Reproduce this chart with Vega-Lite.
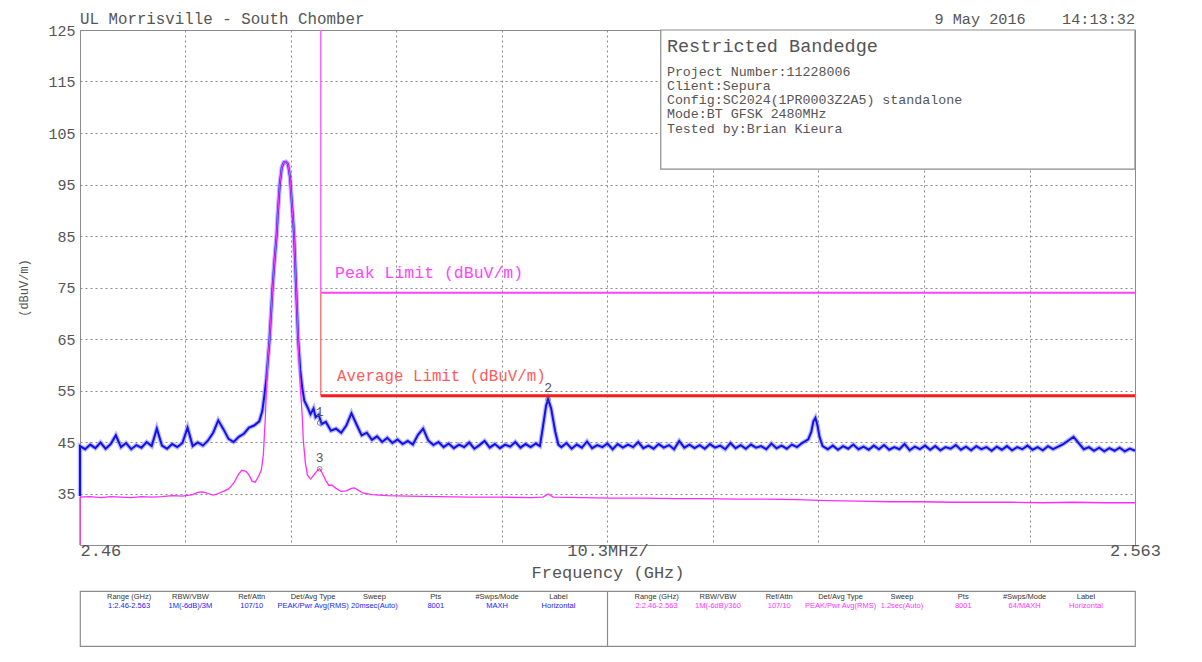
{
"$schema": "https://vega.github.io/schema/vega-lite/v6.json",
"autosize": {"type": "pad"},
"padding": {"left": 17, "top": 10, "right": 5, "bottom": 5},
"background": "white",
"spacing": 8,
"config": {
  "font": "Liberation Mono",
  "view": {"stroke": "#8c8c8c", "strokeWidth": 1},
  "axis": {"labelFont": "Liberation Mono", "titleFont": "Liberation Mono", "titleFontWeight": "normal", "labelColor": "#555555", "titleColor": "#555555"}
},
"datasets": {
  "pk": [
    {"f":2.46,"v":34.5},{"f":2.46,"v":44.2},{"f":2.4605,"v":43.6},{"f":2.461,"v":44.5},{"f":2.4615,"v":43.8},{"f":2.462,"v":44.9},{"f":2.4625,"v":43.7},{"f":2.463,"v":44.6},{"f":2.4635,"v":46.3},{"f":2.464,"v":44.0},{"f":2.4645,"v":44.8},{"f":2.465,"v":43.6},{"f":2.4655,"v":44.4},{"f":2.466,"v":43.9},{"f":2.4665,"v":45.0},{"f":2.467,"v":44.2},{"f":2.4675,"v":47.6},{"f":2.468,"v":44.3},{"f":2.4685,"v":43.7},{"f":2.469,"v":44.6},{"f":2.4695,"v":44.0},{"f":2.47,"v":44.8},{"f":2.4705,"v":47.8},{"f":2.471,"v":44.2},{"f":2.4715,"v":44.9},{"f":2.472,"v":44.3},{"f":2.4725,"v":45.3},{"f":2.473,"v":46.8},{"f":2.4735,"v":49.2},{"f":2.474,"v":47.5},{"f":2.4745,"v":45.6},{"f":2.475,"v":45.0},{"f":2.4755,"v":46.0},{"f":2.476,"v":46.6},{"f":2.4765,"v":47.8},{"f":2.477,"v":48.2},{"f":2.4775,"v":49.0},{"f":2.4778,"v":51.0},{"f":2.478,"v":54.0},{"f":2.4782,"v":57.4},{"f":2.4785,"v":64.8},{"f":2.4788,"v":75.0},{"f":2.479,"v":80.5},{"f":2.4792,"v":85.2},{"f":2.4793,"v":89.0},{"f":2.4795,"v":95.0},{"f":2.4797,"v":98.3},{"f":2.4799,"v":99.3},{"f":2.4801,"v":99.4},{"f":2.4803,"v":99.0},{"f":2.4805,"v":96.5},{"f":2.4807,"v":91.0},{"f":2.4809,"v":85.2},{"f":2.4811,"v":75.0},{"f":2.4813,"v":64.8},{"f":2.4815,"v":59.0},{"f":2.4817,"v":55.5},
    {"f":2.4819,"v":53.0},{"f":2.4822,"v":51.8},{"f":2.4825,"v":50.4},{"f":2.4828,"v":51.5},{"f":2.483,"v":49.8},{"f":2.4833,"v":50.3},{"f":2.4836,"v":48.5},{"f":2.484,"v":48.9},{"f":2.4845,"v":47.2},{"f":2.485,"v":47.6},{"f":2.4855,"v":46.8},{"f":2.486,"v":48.2},{"f":2.4865,"v":50.6},{"f":2.487,"v":48.4},{"f":2.4875,"v":46.3},{"f":2.488,"v":46.8},{"f":2.4885,"v":45.4},{"f":2.489,"v":46.1},{"f":2.4895,"v":45.0},{"f":2.49,"v":45.8},{"f":2.4905,"v":44.8},{"f":2.491,"v":45.5},{"f":2.4915,"v":44.6},{"f":2.492,"v":45.2},{"f":2.4925,"v":44.5},{"f":2.493,"v":46.4},{"f":2.4935,"v":47.6},{"f":2.494,"v":45.3},{"f":2.4945,"v":44.4},{"f":2.495,"v":45.0},{"f":2.4955,"v":44.0},{"f":2.496,"v":44.7},{"f":2.4965,"v":43.8},{"f":2.497,"v":44.5},{"f":2.4975,"v":44.0},{"f":2.498,"v":44.9},{"f":2.4985,"v":43.7},{"f":2.499,"v":44.4},{"f":2.4995,"v":45.2},{"f":2.5,"v":43.9},{"f":2.5005,"v":44.6},{"f":2.501,"v":43.8},{"f":2.5015,"v":44.5},{"f":2.502,"v":44.1},{"f":2.5025,"v":45.0},{"f":2.503,"v":43.9},{"f":2.5035,"v":44.6},{"f":2.504,"v":44.0},{"f":2.5045,"v":44.7},{"f":2.5049,"v":44.2},{"f":2.5052,"v":48.0},{"f":2.5055,"v":52.0},{"f":2.5057,"v":53.3},{"f":2.506,"v":51.5},{"f":2.5064,"v":47.0},{"f":2.5067,"v":44.5},{"f":2.507,"v":44.0},{"f":2.5075,"v":44.8},{"f":2.508,"v":43.7},{"f":2.5085,"v":44.5},{"f":2.509,"v":43.9},{"f":2.5095,"v":45.1},{"f":2.51,"v":43.8},{"f":2.5105,"v":44.4},{"f":2.511,"v":44.0},{"f":2.5115,"v":44.7},{"f":2.512,"v":43.6},{"f":2.5125,"v":44.6},{"f":2.513,"v":43.9},{"f":2.5135,"v":44.5},{"f":2.514,"v":44.0},{"f":2.5145,"v":45.0},{"f":2.515,"v":43.8},{"f":2.5155,"v":44.3},{"f":2.516,"v":43.7},{"f":2.5165,"v":44.6},{"f":2.517,"v":43.9},{"f":2.5175,"v":44.4},{"f":2.518,"v":43.6},{"f":2.5185,"v":45.2},{"f":2.519,"v":43.9},{"f":2.5195,"v":44.5},{"f":2.52,"v":43.8},{"f":2.5205,"v":44.4},{"f":2.521,"v":43.7},{"f":2.5215,"v":44.6},{"f":2.522,"v":43.9},{"f":2.5225,"v":44.3},{"f":2.523,"v":43.6},{"f":2.5235,"v":44.8},{"f":2.524,"v":43.8},{"f":2.5245,"v":44.4},{"f":2.525,"v":43.7},{"f":2.5255,"v":44.5},{"f":2.526,"v":43.9},{"f":2.5265,"v":44.2},{"f":2.527,"v":43.6},{"f":2.5275,"v":44.7},{"f":2.528,"v":43.8},{"f":2.5285,"v":44.3},{"f":2.529,"v":43.7},{"f":2.5295,"v":44.5},{"f":2.53,"v":44.0},{"f":2.5305,"v":44.8},{"f":2.5311,"v":45.5},{"f":2.5314,"v":47.0},{"f":2.5316,"v":49.0},{"f":2.5318,"v":49.7},{"f":2.532,"v":48.2},{"f":2.5322,"v":46.0},{"f":2.5325,"v":44.2},{"f":2.533,"v":43.6},{"f":2.5335,"v":44.3},{"f":2.534,"v":43.5},{"f":2.5345,"v":44.2},{"f":2.535,"v":43.7},{"f":2.5355,"v":44.5},{"f":2.536,"v":43.6},{"f":2.5365,"v":44.1},{"f":2.537,"v":43.5},{"f":2.5375,"v":44.3},{"f":2.538,"v":43.6},{"f":2.5385,"v":44.4},{"f":2.539,"v":43.5},{"f":2.5395,"v":44.0},{"f":2.54,"v":43.6},{"f":2.5405,"v":44.6},{"f":2.541,"v":43.4},{"f":2.5415,"v":44.1},{"f":2.542,"v":43.6},{"f":2.5425,"v":44.3},{"f":2.543,"v":43.5},{"f":2.5435,"v":44.2},{"f":2.544,"v":43.4},{"f":2.5445,"v":44.0},{"f":2.545,"v":43.7},{"f":2.5455,"v":44.4},{"f":2.546,"v":43.5},{"f":2.5465,"v":44.1},{"f":2.547,"v":43.4},{"f":2.5475,"v":44.2},{"f":2.548,"v":43.6},{"f":2.5485,"v":44.0},{"f":2.549,"v":43.3},{"f":2.5495,"v":44.1},{"f":2.55,"v":43.5},{"f":2.5505,"v":44.2},{"f":2.551,"v":43.4},{"f":2.5515,"v":44.0},{"f":2.552,"v":43.6},{"f":2.5525,"v":44.3},{"f":2.553,"v":43.5},{"f":2.5535,"v":44.0},{"f":2.554,"v":43.4},{"f":2.5545,"v":44.2},{"f":2.555,"v":43.6},{"f":2.5555,"v":44.1},{"f":2.556,"v":44.6},{"f":2.5565,"v":45.3},{"f":2.557,"v":46.0},{"f":2.5575,"v":44.8},{"f":2.558,"v":43.6},{"f":2.5585,"v":44.0},{"f":2.559,"v":43.3},{"f":2.5595,"v":43.9},{"f":2.56,"v":43.2},{"f":2.5605,"v":43.8},{"f":2.561,"v":43.3},{"f":2.5615,"v":43.9},{"f":2.562,"v":43.2},{"f":2.5625,"v":43.7},{"f":2.563,"v":43.3}
  ],
  "av": [
    {"f":2.46,"v":25.0},{"f":2.46,"v":34.3},{"f":2.461,"v":34.4},{"f":2.462,"v":34.2},{"f":2.463,"v":34.4},{"f":2.464,"v":34.3},{"f":2.465,"v":34.2},{"f":2.466,"v":34.4},{"f":2.467,"v":34.3},{"f":2.468,"v":34.4},{"f":2.469,"v":34.6},{"f":2.47,"v":34.5},{"f":2.471,"v":34.8},{"f":2.4715,"v":35.2},{"f":2.472,"v":35.3},{"f":2.4725,"v":35.0},{"f":2.473,"v":34.7},{"f":2.4735,"v":35.0},{"f":2.474,"v":35.4},{"f":2.4745,"v":35.9},{"f":2.475,"v":37.0},{"f":2.4755,"v":38.8},{"f":2.4758,"v":39.5},{"f":2.4762,"v":39.3},{"f":2.4765,"v":38.6},{"f":2.4768,"v":37.4},{"f":2.4771,"v":37.2},{"f":2.4774,"v":38.2},{"f":2.4777,"v":39.5},{"f":2.4779,"v":42.5},{"f":2.4781,"v":50.0},{"f":2.4783,"v":60.0},{"f":2.4785,"v":64.8},{"f":2.4788,"v":75.0},{"f":2.479,"v":80.5},{"f":2.4792,"v":85.2},{"f":2.4793,"v":89.0},{"f":2.4795,"v":95.0},{"f":2.4797,"v":98.3},{"f":2.4799,"v":99.3},{"f":2.4801,"v":99.4},{"f":2.4803,"v":99.0},{"f":2.4805,"v":96.5},{"f":2.4807,"v":91.0},{"f":2.4809,"v":85.2},{"f":2.4811,"v":75.0},{"f":2.4813,"v":64.8},{"f":2.4815,"v":56.0},{"f":2.4817,"v":50.0},{"f":2.4818,"v":45.4},{"f":2.482,"v":41.0},{"f":2.4822,"v":38.6},{"f":2.4825,"v":37.8},{"f":2.4828,"v":38.5},{"f":2.4831,"v":39.3},{"f":2.4834,"v":39.8},{"f":2.4837,"v":38.8},{"f":2.484,"v":37.5},{"f":2.4843,"v":36.6},{"f":2.4846,"v":36.6},{"f":2.485,"v":36.0},{"f":2.4855,"v":35.4},{"f":2.486,"v":35.5},{"f":2.4865,"v":36.0},{"f":2.4868,"v":36.1},{"f":2.4872,"v":35.6},{"f":2.4876,"v":35.1},{"f":2.4885,"v":34.8},{"f":2.49,"v":34.6},{"f":2.492,"v":34.5},{"f":2.495,"v":34.4},{"f":2.498,"v":34.3},{"f":2.501,"v":34.3},{"f":2.504,"v":34.2},{"f":2.5052,"v":34.3},{"f":2.5057,"v":34.9},{"f":2.5062,"v":34.3},{"f":2.509,"v":34.2},{"f":2.512,"v":34.1},{"f":2.515,"v":34.1},{"f":2.518,"v":34.0},{"f":2.521,"v":34.0},{"f":2.524,"v":33.9},{"f":2.527,"v":33.9},{"f":2.53,"v":33.8},{"f":2.533,"v":33.6},{"f":2.536,"v":33.5},{"f":2.539,"v":33.4},{"f":2.542,"v":33.4},{"f":2.545,"v":33.3},{"f":2.548,"v":33.3},{"f":2.551,"v":33.3},{"f":2.554,"v":33.2},{"f":2.557,"v":33.3},{"f":2.56,"v":33.2},{"f":2.563,"v":33.2}
  ],
  "table": [
    {"half":"1","col":1,"line":1,"role":"head","t":"Range (GHz)"},
    {"half":"1","col":2,"line":1,"role":"head","t":"RBW/VBW"},
    {"half":"1","col":3,"line":1,"role":"head","t":"Ref/Attn"},
    {"half":"1","col":4,"line":1,"role":"head","t":"Det/Avg Type"},
    {"half":"1","col":5,"line":1,"role":"head","t":"Sweep"},
    {"half":"1","col":6,"line":1,"role":"head","t":"Pts"},
    {"half":"1","col":7,"line":1,"role":"head","t":"#Swps/Mode"},
    {"half":"1","col":8,"line":1,"role":"head","t":"Label"},
    {"half":"1","col":1,"line":2,"role":"s1","t":"1:2.46-2.563"},
    {"half":"1","col":2,"line":2,"role":"s1","t":"1M(-6dB)/3M"},
    {"half":"1","col":3,"line":2,"role":"s1","t":"107/10"},
    {"half":"1","col":4,"line":2,"role":"s1","t":"PEAK/Pwr Avg(RMS)"},
    {"half":"1","col":5,"line":2,"role":"s1","t":"20msec(Auto)"},
    {"half":"1","col":6,"line":2,"role":"s1","t":"8001"},
    {"half":"1","col":7,"line":2,"role":"s1","t":"MAXH"},
    {"half":"1","col":8,"line":2,"role":"s1","t":"Horizontal"},
    {"half":"2","col":1,"line":1,"role":"head","t":"Range (GHz)"},
    {"half":"2","col":2,"line":1,"role":"head","t":"RBW/VBW"},
    {"half":"2","col":3,"line":1,"role":"head","t":"Ref/Attn"},
    {"half":"2","col":4,"line":1,"role":"head","t":"Det/Avg Type"},
    {"half":"2","col":5,"line":1,"role":"head","t":"Sweep"},
    {"half":"2","col":6,"line":1,"role":"head","t":"Pts"},
    {"half":"2","col":7,"line":1,"role":"head","t":"#Swps/Mode"},
    {"half":"2","col":8,"line":1,"role":"head","t":"Label"},
    {"half":"2","col":1,"line":2,"role":"s2","t":"2:2.46-2.563"},
    {"half":"2","col":2,"line":2,"role":"s2","t":"1M(-6dB)/360"},
    {"half":"2","col":3,"line":2,"role":"s2","t":"107/10"},
    {"half":"2","col":4,"line":2,"role":"s2","t":"PEAK/Pwr Avg(RMS)"},
    {"half":"2","col":5,"line":2,"role":"s2","t":"1.2sec(Auto)"},
    {"half":"2","col":6,"line":2,"role":"s2","t":"8001"},
    {"half":"2","col":7,"line":2,"role":"s2","t":"64/MAXH"},
    {"half":"2","col":8,"line":2,"role":"s2","t":"Horizontal"}
  ]
},
"vconcat": [
  {
    "width": 1055,
    "height": 515,
    "layer": [
      {
        "data": {"name": "pk"},
        "mark": {"type": "line", "color": "#7070ff", "strokeWidth": 4.5, "opacity": 0.5},
        "encoding": {
          "x": {"field": "f", "type": "quantitative",
            "scale": {"domain": [2.46, 2.563], "nice": false, "zero": false},
            "axis": {
              "values": [2.46, 2.4703, 2.4806, 2.4909, 2.5012, 2.5115, 2.5218, 2.5321, 2.5424, 2.5527, 2.563],
              "labelExpr": "datum.value < 2.461 ? '2.46' : (datum.value > 2.562 ? '2.563' : (abs(datum.value - 2.5115) < 0.001 ? '10.3MHz/' : ''))",
              "labelAlign": {"condition": {"test": "datum.value < 2.461", "value": "left"}, "value": "center"},
              "labelFontSize": 17, "labelPadding": -3, "ticks": false, "domain": false,
              "grid": true, "gridColor": "#8a8a8a", "gridDash": [2, 3], "gridWidth": 1,
              "labelOverlap": false, "labelBound": false, "labelFlush": false,
              "title": "Frequency (GHz)", "titleFontSize": 17, "titlePadding": 6
            }
          },
          "y": {"field": "v", "type": "quantitative",
            "scale": {"domain": [25, 125], "nice": false, "zero": false},
            "axis": {
              "values": [35, 45, 55, 65, 75, 85, 95, 105, 115, 125],
              "labelFontSize": 15, "labelPadding": 5, "ticks": false, "domain": false,
              "grid": true, "gridColor": "#8a8a8a", "gridDash": [2, 3], "gridWidth": 1,
              "labelFlush": false, "labelOverlap": false,
              "title": "(dBuV/m)", "titleFontSize": 12, "titlePadding": 17
            }
          }
        }
      },
      {
        "data": {"name": "pk"},
        "mark": {"type": "line", "color": "#1212e8", "strokeWidth": 2},
        "encoding": {
          "x": {"field": "f", "type": "quantitative"},
          "y": {"field": "v", "type": "quantitative"}
        }
      },
      {
        "data": {"name": "av"},
        "mark": {"type": "line", "color": "#ff2cff", "strokeWidth": 1.3},
        "encoding": {
          "x": {"field": "f", "type": "quantitative"},
          "y": {"field": "v", "type": "quantitative"}
        }
      },
      {
        "data": {"values": [{"f": 2.4835, "f2": 2.563, "v": 74}]},
        "mark": {"type": "rule", "color": "#ff40ff", "strokeWidth": 2},
        "encoding": {
          "x": {"field": "f", "type": "quantitative"},
          "x2": {"field": "f2"},
          "y": {"field": "v", "type": "quantitative"}
        }
      },
      {
        "data": {"values": [{"f": 2.4835, "v": 125, "v2": 74}]},
        "mark": {"type": "rule", "color": "#ff66ff", "strokeWidth": 1.5},
        "encoding": {
          "x": {"field": "f", "type": "quantitative"},
          "y": {"field": "v", "type": "quantitative"},
          "y2": {"field": "v2"}
        }
      },
      {
        "data": {"values": [{"f": 2.4835, "v": 74, "v2": 54}]},
        "mark": {"type": "rule", "color": "#ff7a7a", "strokeWidth": 1.5},
        "encoding": {
          "x": {"field": "f", "type": "quantitative"},
          "y": {"field": "v", "type": "quantitative"},
          "y2": {"field": "v2"}
        }
      },
      {
        "data": {"values": [{"f": 2.4835, "f2": 2.563, "v": 54}]},
        "mark": {"type": "rule", "color": "#ff1a1a", "strokeWidth": 3},
        "encoding": {
          "x": {"field": "f", "type": "quantitative"},
          "x2": {"field": "f2"},
          "y": {"field": "v", "type": "quantitative"}
        }
      },
      {
        "data": {"values": [{"f": 2.4849, "v": 77.8, "t": "Peak Limit (dBuV/m)"}]},
        "mark": {"type": "text", "align": "left", "baseline": "middle", "fontSize": 16.5, "color": "#ff44ff"},
        "encoding": {
          "x": {"field": "f", "type": "quantitative"},
          "y": {"field": "v", "type": "quantitative"},
          "text": {"field": "t"}
        }
      },
      {
        "data": {"values": [{"f": 2.4851, "v": 57.8, "t": "Average Limit (dBuV/m)"}]},
        "mark": {"type": "text", "align": "left", "baseline": "middle", "fontSize": 15.8, "color": "#ff5a5a"},
        "encoding": {
          "x": {"field": "f", "type": "quantitative"},
          "y": {"field": "v", "type": "quantitative"},
          "text": {"field": "t"}
        }
      },
      {
        "data": {"values": [{"f": 2.5167, "f2": 2.563, "v": 125, "v2": 98}]},
        "mark": {"type": "rect", "fill": "white", "stroke": "#8c8c8c", "strokeWidth": 1.2},
        "encoding": {
          "x": {"field": "f", "type": "quantitative"},
          "x2": {"field": "f2"},
          "y": {"field": "v", "type": "quantitative"},
          "y2": {"field": "v2"}
        }
      },
      {
        "data": {"values": [{"f": 2.5173, "v": 121.9, "t": "Restricted Bandedge"}]},
        "mark": {"type": "text", "align": "left", "baseline": "middle", "fontSize": 18.5, "color": "#555555"},
        "encoding": {
          "x": {"field": "f", "type": "quantitative"},
          "y": {"field": "v", "type": "quantitative"},
          "text": {"field": "t"}
        }
      },
      {
        "data": {"values": [{"f": 2.5173, "v": 118.3, "t": "Project Number:11228006\nClient:Sepura\nConfig:SC2024(1PR0003Z2A5) standalone\nMode:BT GFSK 2480MHz\nTested by:Brian Kieura"}]},
        "mark": {"type": "text", "align": "left", "baseline": "top", "fontSize": 13.3, "lineHeight": 14.3, "lineBreak": "\n", "color": "#555555"},
        "encoding": {
          "x": {"field": "f", "type": "quantitative"},
          "y": {"field": "v", "type": "quantitative"},
          "text": {"field": "t"}
        }
      },
      {
        "data": {"values": [{"f": 2.46, "v": 125, "t": "UL Morrisville - South Chomber"}]},
        "mark": {"type": "text", "align": "left", "baseline": "bottom", "dy": -3, "fontSize": 15.8, "color": "#555555", "clip": false},
        "encoding": {
          "x": {"field": "f", "type": "quantitative"},
          "y": {"field": "v", "type": "quantitative"},
          "text": {"field": "t"}
        }
      },
      {
        "data": {"values": [{"f": 2.563, "v": 125, "t": "9 May 2016\u00a0\u00a0\u00a0\u00a014:13:32"}]},
        "mark": {"type": "text", "align": "right", "baseline": "bottom", "dy": -3, "fontSize": 15.2, "color": "#555555", "clip": false},
        "encoding": {
          "x": {"field": "f", "type": "quantitative"},
          "y": {"field": "v", "type": "quantitative"},
          "text": {"field": "t"}
        }
      },
      {
        "data": {"values": [{"f": 2.4834, "v": 48.7, "id": "1"}, {"f": 2.5057, "v": 53.3, "id": "2"}, {"f": 2.4834, "v": 39.8, "id": "3"}]},
        "mark": {"type": "point", "shape": "circle", "filled": false, "size": 22, "stroke": "#555555", "strokeWidth": 1},
        "encoding": {
          "x": {"field": "f", "type": "quantitative"},
          "y": {"field": "v", "type": "quantitative"}
        }
      },
      {
        "data": {"values": [{"f": 2.4834, "v": 48.7, "id": "1"}, {"f": 2.5057, "v": 53.3, "id": "2"}, {"f": 2.4834, "v": 39.8, "id": "3"}]},
        "mark": {"type": "text", "align": "center", "baseline": "bottom", "dy": -4, "fontSize": 13, "color": "#555555"},
        "encoding": {
          "x": {"field": "f", "type": "quantitative"},
          "y": {"field": "v", "type": "quantitative"},
          "text": {"field": "id"}
        }
      }
    ]
  },
  {
    "width": 1055,
    "height": 55,
    "view": {"stroke": "#8c8c8c", "strokeWidth": 1.2},
    "resolve": {"scale": {"x": "independent"}},
    "layer": [
      {
        "data": {"values": [{"half": "2"}]},
        "mark": {"type": "rule", "color": "#8c8c8c", "strokeWidth": 1.2},
        "encoding": {
          "x": {"field": "half", "type": "nominal", "bandPosition": 0, "scale": {"type": "band", "domain": ["1", "2"], "paddingInner": 0, "paddingOuter": 0}, "axis": null}
        }
      },
      {
        "data": {"name": "table"},
        "mark": {"type": "text", "font": "Liberation Sans", "fontSize": 7.5, "baseline": "middle", "align": "center"},
        "encoding": {
          "x": {"field": "half", "type": "nominal", "scale": {"type": "band", "paddingInner": 0, "paddingOuter": 0}, "axis": null},
          "xOffset": {"field": "col", "type": "ordinal", "scale": {"type": "point", "padding": 0.8}},
          "y": {"field": "line", "type": "quantitative", "scale": {"domain": [0.35, 6.35], "reverse": true}, "axis": null},
          "text": {"field": "t"},
          "color": {"field": "role", "type": "nominal", "scale": {"domain": ["head", "s1", "s2"], "range": ["#333333", "#1a1aff", "#ff33ff"]}, "legend": null}
        }
      }
    ]
  }
]
}
